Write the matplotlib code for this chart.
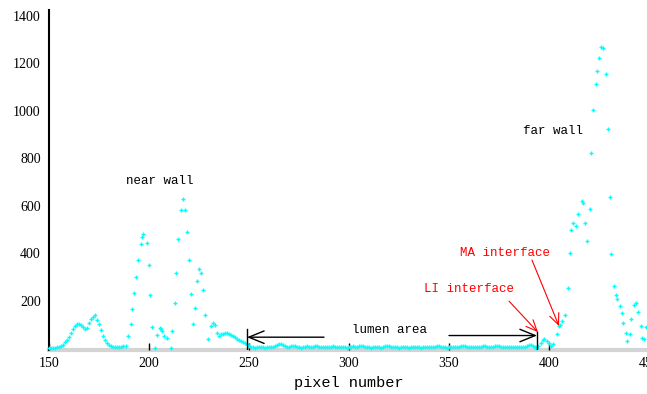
import matplotlib
matplotlib.use("Agg")
import matplotlib.pyplot as plt

# ---- data (pixel number vs. intensity) ----
x_left = list(range(150, 188))
y_left = [2, 1, 2, 1, 3, 5, 9, 15, 24, 35, 48, 62, 80, 95, 100, 100, 96, 88, 80, 85,
          105, 122, 132, 138, 120, 100, 75, 52, 35, 22, 14, 8, 5, 3, 3, 4, 6, 10]

x_near = [188.5, 189.5, 191, 191.5, 192.5, 193.5, 194.5, 196, 196.5, 197, 199, 200, 200.5,
          201.5, 203, 204, 205.5, 206, 206.5, 207.5, 209, 211, 211.5, 213, 213.5, 214.5,
          216, 217, 218, 219, 220, 221, 222, 223, 224, 225, 226, 227, 228, 229.5, 231,
          232, 233, 234, 235]
y_near = [8, 50, 100, 165, 233, 300, 372, 440, 470, 482, 444, 351, 224,
          89, 0, 55, 85, 80, 72, 50, 42, 0, 72, 190, 317, 461,
          584, 630, 584, 490, 372, 228, 102, 169, 283, 334, 317, 245, 140, 38, 93,
          106, 97, 63, 50]

x_lumen = list(range(236, 394))
y_lumen = [59, 60, 62, 63, 60, 57, 52, 45, 38, 33, 30, 25, 20, 16,
           10, 6, 4, 2, 3, 5, 4, 3, 2, 4, 6, 5, 4, 8, 14, 18, 17, 12, 7, 4,
           5, 8, 10, 9, 6, 3, 2, 4, 6, 7, 5, 4, 6, 8, 7, 5, 4, 5, 6, 4,
           3, 5, 7, 6, 4, 3, 5, 6, 4, 2, 3, 5, 7, 6, 5, 7, 9, 8, 6, 4,
           3, 2, 4, 6, 5, 3, 2, 4, 7, 9, 8, 6, 5, 4, 3, 2, 4, 6, 5, 3,
           2, 3, 5, 6, 4, 3, 2, 3, 4, 6, 5, 3, 4, 6, 8, 7, 5, 4, 3, 2,
           4, 5, 6, 5, 4, 5, 7, 8, 7, 5, 4, 3, 4, 6, 5, 4, 6, 8, 7, 5,
           4, 3, 5, 7, 9, 8, 6, 5, 4, 3, 4, 6, 5, 4, 3, 4, 5, 4, 6, 9,
           12, 14, 10, 4]

x_far = [393.5, 394.5, 396, 397, 397.5, 399, 400, 401, 402, 404, 405, 405.5, 406.5, 408,
         409.5, 410.5, 411, 412, 413.5, 414.5, 416.5, 417, 418, 419, 420.5, 421, 422,
         423.5, 424, 425, 426, 427, 428.5, 429.5, 430.5, 431, 432.5, 433.5, 434,
         435.5, 436.5, 437, 438.5, 439, 440.5, 441, 442.5, 443.5, 444.5, 446, 446.5,
         447.5, 448.5]
y_far = [0, 10, 21, 35, 38, 30, 20, 8, 17, 59, 93, 97, 114, 139,
         253, 400, 497, 526, 514, 564, 619, 613, 526, 451, 585, 821, 1002,
         1112, 1166, 1221, 1267, 1265, 1154, 922, 636, 396, 261, 223, 206,
         177, 147, 105, 63, 29, 59, 122, 181, 189, 152, 93, 42,
         38, 88]

xs = x_left + x_near + x_lumen + x_far
ys = y_left + y_near + y_lumen + y_far

x_ticks = [150, 200, 250, 300, 350, 400, 450]
y_ticks = [200, 400, 600, 800, 1000, 1200, 1400]

# ---- figure ----
fig = plt.figure(figsize=(6.47, 3.94), dpi=100)
ax = fig.add_axes([49 / 647, 44 / 394, 600 / 647, 340 / 394])

ax.plot(xs, ys, linestyle="none", marker="+", markersize=2.8, markeredgewidth=1.0,
        color="#00ffff", zorder=3, clip_on=False)

ax.set_xlim(150, 450)
ax.set_ylim(-8, 1425)
ax.set_xticks(x_ticks)
ax.set_yticks(y_ticks)

serif = ["Liberation Serif", "DejaVu Serif"]
mono = ["Liberation Mono", "DejaVu Sans Mono"]
for lab in ax.get_xticklabels() + ax.get_yticklabels():
    lab.set_family(serif)
    lab.set_fontsize(10)

ax.tick_params(axis="x", direction="in", length=5, width=1, color="black", pad=5)
ax.tick_params(axis="y", length=0, pad=6)

for s in ["top", "right"]:
    ax.spines[s].set_visible(False)
ax.spines["left"].set_color("black")
ax.spines["left"].set_linewidth(1.5)
ax.spines["bottom"].set_color("#d4d4d4")
ax.spines["bottom"].set_linewidth(3)
ax.spines["bottom"].set_zorder(1)

ax.set_xlabel("pixel number", family=mono, fontsize=11, labelpad=4)

# ---- annotations ----
ax.text(205.5, 704, "near wall", family=mono, fontsize=9, ha="center", va="center")
ax.text(402, 915, "far wall", family=mono, fontsize=9, ha="center", va="center")
ax.text(320, 78, "lumen area", family=mono, fontsize=9, ha="center", va="center")
ax.text(378, 400, "MA interface", family=mono, fontsize=9, color="red", ha="center", va="center")
ax.text(360, 247, "LI interface", family=mono, fontsize=9, color="red", ha="center", va="center")

blk = dict(arrowstyle="->,head_length=1.1,head_width=0.45", color="black", lw=1,
           shrinkA=0, shrinkB=0)
ax.annotate("", xy=(249, 46), xytext=(287.5, 46), arrowprops=blk)
ax.annotate("", xy=(394, 53), xytext=(350, 53), arrowprops=blk)
ax.plot([249, 249], [-8, 82], color="black", lw=1, zorder=4)
ax.plot([394, 394], [-8, 68], color="black", lw=1, zorder=4)

red = dict(arrowstyle="->,head_length=0.8,head_width=0.35", color="red", lw=0.8,
           shrinkA=0, shrinkB=0)
ax.annotate("", xy=(405, 93), xytext=(391.5, 371), arrowprops=red)
ax.annotate("", xy=(394.5, 67), xytext=(380, 198), arrowprops=red)

fig.savefig("out.png", dpi=100)
